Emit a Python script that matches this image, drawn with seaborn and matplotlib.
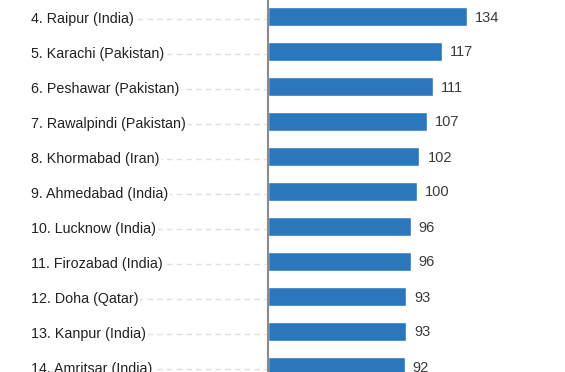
import matplotlib
matplotlib.use("Agg")
import matplotlib.pyplot as plt
import matplotlib.transforms as mtransforms
import seaborn as sns
import pandas as pd

cities = ["4. Raipur (India)", "5. Karachi (Pakistan)", "6. Peshawar (Pakistan)",
          "7. Rawalpindi (Pakistan)", "8. Khormabad (Iran)", "9. Ahmedabad (India)",
          "10. Lucknow (India)", "11. Firozabad (India)", "12. Doha (Qatar)",
          "13. Kanpur (India)", "14. Amritsar (India)"]
values = [134, 117, 111, 107, 102, 100, 96, 96, 93, 93, 92]

df = pd.DataFrame({"city": cities, "value": values})

sns.set_theme(style="white")
plt.rcParams['font.family'] = ['Liberation Sans', 'DejaVu Sans']

W, H = 565, 372
fig = plt.figure(figsize=(W / 100, H / 100), dpi=100)
ax_left = 268 / W
ax = fig.add_axes([ax_left, 0, 1 - ax_left, 1])

sns.barplot(data=df, y="city", x="value", orient="h", color="#2c77bb",
            saturation=1, width=19 / 35, ax=ax)

row_h = 35.0
first_center = 16.5
ax.set_ylim((H - first_center) / row_h, -first_center / row_h)
ax.set_xlim(0, (W - 268) / 1.485)

for s in ["top", "right", "bottom"]:
    ax.spines[s].set_visible(False)
ax.spines["left"].set_color("#8a8a8a")
ax.spines["left"].set_linewidth(1.5)
ax.set_xticks([])
ax.set_yticks([])
ax.set_xlabel("")
ax.set_ylabel("")

# value labels
off = mtransforms.offset_copy(ax.transData, fig=fig, x=8, y=-1, units="dots")
for i, v in enumerate(values):
    ax.text(v, i, str(v), transform=off, ha="left", va="center",
            fontsize=10.5, color="#3a3a3a")

# category labels with dashed leader lines
for i, c in enumerate(cities):
    y_disp = ax.transData.transform((0, i))[1]
    y_fig = (y_disp - 2.5) / H
    fig.add_artist(plt.Line2D([40 / W, 266 / W], [y_fig, y_fig], transform=fig.transFigure,
                              color="#e0e0e0", lw=1, linestyle=(0, (4, 3))))
    fig.text(31 / W, y_fig, c, ha="left", va="center", fontsize=10.3, color="#222222",
             bbox=dict(facecolor="white", edgecolor="none", pad=1.2))

fig.savefig("out.png", dpi=100)
